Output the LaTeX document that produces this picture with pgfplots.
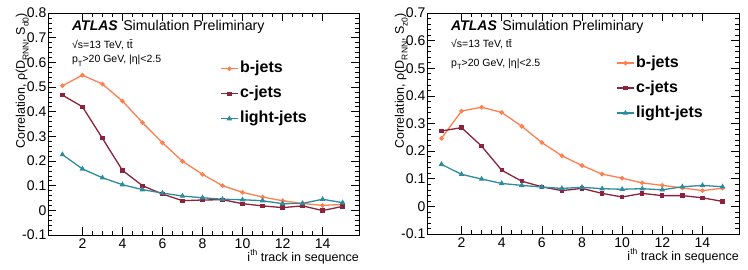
\documentclass[border=0pt]{standalone}
\usepackage{fontspec}
\setmainfont{Liberation Sans}
\usepackage{pgfplots}
\pgfplotsset{compat=1.18}
\definecolor{bcol}{RGB}{255,127,80}
\definecolor{ccol}{RGB}{140,35,60}
\definecolor{lcol}{RGB}{45,140,155}
\pgfplotsset{
 atlas/.style={
  scale only axis, width=311pt, height=222pt,
  xmin=0.28, xmax=15.82,
  xtick={2,4,6,8,10,12,14}, minor x tick num=3,
  minor y tick num=4,
  tick align=inside, tick pos=both,
  major tick length=8pt, minor tick length=4pt,
  every tick/.style={black, line width=0.6pt},
  axis line style={line width=0.8pt},
  /pgf/number format/assume math mode=true,
  ticklabel style={font=\fontsize{14}{14}\selectfont},
  yticklabel style={/pgf/number format/fixed, /pgf/number format/precision=1, inner sep=1.5pt},
  xlabel style={at={(axis description cs:1,0)}, anchor=base east, yshift=-26pt, font=\fontsize{12.5}{12.5}\selectfont, inner sep=0pt},
  ylabel style={anchor=base east, font=\fontsize{12.5}{12.5}\selectfont, inner sep=0pt},
  legend style={draw=none, fill=none, inner sep=0pt, font=\bfseries\fontsize{16}{16}\selectfont, row sep=7pt,
    nodes={inner sep=1.5pt, text height=11.5pt, text depth=3.5pt}},
  legend cell align=left,
  xlabel={i\raisebox{0.9ex}{\fontsize{8.5}{8.5}\selectfont th} track in sequence},
  every axis plot/.append style={line width=1.3pt},
 },
 bstyle/.style={color=bcol, mark=*, mark size=1.6pt},
 cstyle/.style={color=ccol, mark=square*, mark size=1.5pt},
 lstyle/.style={color=lcol, mark=triangle*, mark size=2pt},
}
\newcommand{\sub}[1]{\raisebox{-0.55ex}{\fontsize{8.5}{8.5}\selectfont #1}}
\newcommand{\subs}[1]{\raisebox{-0.55ex}{\fontsize{7.5}{7.5}\selectfont #1}}
\newcommand{\atlastitle}{{\bfseries\itshape\fontsize{14}{14}\selectfont ATLAS}\hspace{5.5pt}Simulation Preliminary}
\begin{document}
\begin{tikzpicture}
\path[use as bounding box] (0,0) rectangle (748pt,269pt);
\begin{axis}[atlas, at={(48pt,34pt)}, anchor=south west,
  ymin=-0.1, ymax=0.8, ytick={-0.1,0,0.1,0.2,0.3,0.4,0.5,0.6,0.7,0.8},
  ylabel={Correlation, ρ(D\sub{RNN}, S\sub{d0})},
  ylabel style={at={(axis description cs:-0.074,1)}},
  legend style={at={(axis description cs:0.553,0.79)}, anchor=north west},
]
\addplot[bstyle] coordinates {(1,0.505)(2,0.548)(3,0.512)(4,0.443)(5,0.356)(6,0.274)(7,0.199)(8,0.146)(9,0.100)(10,0.073)(11,0.054)(12,0.039)(13,0.028)(14,0.020)(15,0.024)};
\addlegendentry{b-jets}
\addplot[cstyle] coordinates {(1,0.467)(2,0.420)(3,0.292)(4,0.162)(5,0.100)(6,0.066)(7,0.039)(8,0.042)(9,0.043)(10,0.027)(11,0.018)(12,0.011)(13,0.018)(14,-0.001)(15,0.016)};
\addlegendentry{c-jets}
\addplot[lstyle] coordinates {(1,0.226)(2,0.168)(3,0.132)(4,0.104)(5,0.084)(6,0.070)(7,0.058)(8,0.051)(9,0.045)(10,0.043)(11,0.039)(12,0.027)(13,0.028)(14,0.045)(15,0.031)};
\addlegendentry{light-jets}
\node[anchor=base west, inner sep=0pt, font=\fontsize{14.2}{14.2}\selectfont] at (axis description cs:0.077,0.923) {\atlastitle};
\node[anchor=base west, inner sep=0pt, font=\fontsize{10.5}{10.5}\selectfont] at (axis description cs:0.077,0.842) {√s=13 TeV, t\={t}};
\node[anchor=base west, inner sep=0pt, font=\fontsize{10.5}{10.5}\selectfont] at (axis description cs:0.077,0.775) {p\subs{T}>20 GeV, |η|<2.5};
\end{axis}
\begin{axis}[atlas, at={(427pt,35pt)}, anchor=south west, width=312pt, height=221pt,
  ymin=-0.1, ymax=0.7, ytick={-0.1,0,0.1,0.2,0.3,0.4,0.5,0.6,0.7},
  ylabel={Correlation, ρ(D\sub{RNN}, S\sub{z0})},
  ylabel style={at={(axis description cs:-0.074,1)}},
  legend style={at={(axis description cs:0.606,0.815)}, anchor=north west},
]
\addplot[bstyle] coordinates {(1,0.246)(2,0.345)(3,0.359)(4,0.340)(5,0.290)(6,0.231)(7,0.183)(8,0.148)(9,0.117)(10,0.102)(11,0.085)(12,0.076)(13,0.067)(14,0.057)(15,0.066)};
\addlegendentry{b-jets}
\addplot[cstyle] coordinates {(1,0.273)(2,0.285)(3,0.218)(4,0.131)(5,0.091)(6,0.071)(7,0.057)(8,0.065)(9,0.047)(10,0.034)(11,0.047)(12,0.039)(13,0.039)(14,0.031)(15,0.018)};
\addlegendentry{c-jets}
\addplot[lstyle] coordinates {(1,0.152)(2,0.116)(3,0.099)(4,0.083)(5,0.076)(6,0.070)(7,0.065)(8,0.069)(9,0.064)(10,0.062)(11,0.064)(12,0.060)(13,0.071)(14,0.076)(15,0.071)};
\addlegendentry{light-jets}
\node[anchor=base west, inner sep=0pt, font=\fontsize{14.2}{14.2}\selectfont] at (axis description cs:0.077,0.923) {\atlastitle};
\node[anchor=base west, inner sep=0pt, font=\fontsize{10.5}{10.5}\selectfont] at (axis description cs:0.077,0.842) {√s=13 TeV, t\={t}};
\node[anchor=base west, inner sep=0pt, font=\fontsize{10.5}{10.5}\selectfont] at (axis description cs:0.077,0.760) {p\subs{T}>20 GeV, |η|<2.5};
\end{axis}
\end{tikzpicture}
\end{document}
